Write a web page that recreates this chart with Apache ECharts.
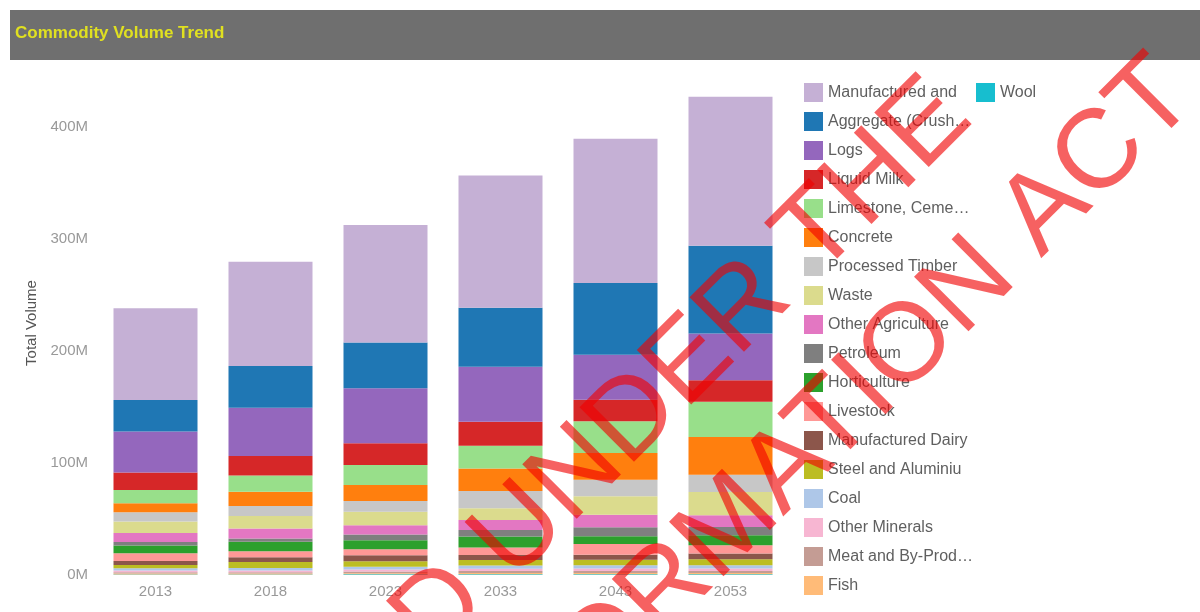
<!DOCTYPE html>
<html>
<head>
<meta charset="utf-8">
<script src="https://cdn.jsdelivr.net/npm/echarts@6/dist/echarts.min.js"></script>
<style>
html,body{margin:0;padding:0;background:#fff;}
#chart{width:1200px;height:612px;}
</style>
</head>
<body>
<div id="chart"></div>
<script>
// Categories (years)
const years = ['2013', '2018', '2023', '2033', '2043', '2053'];
// Y-axis tick labels (millions)
const yTicks = [0, 100, 200, 300, 400];

// Series values in millions, top of stack first in legend order
const manufactured    = [81.9, 93.1, 105.0, 118.1, 128.8, 133.0];
const aggregate       = [28.2, 37.2, 40.8, 52.7, 64.0, 78.3];
const logs            = [36.6, 43.1, 49.1, 49.1, 40.2, 41.7];
const liquidMilk      = [15.5, 17.3, 19.4, 21.4, 19.3, 19.3];
const limestone       = [11.9, 14.6, 17.9, 20.3, 28.3, 31.3];
const concrete        = [8.0, 12.8, 14.3, 20.3, 23.8, 33.7];
const processedTimber = [8.3, 8.9, 9.5, 15.4, 14.8, 15.4];
const waste           = [10.4, 11.1, 12.0, 10.4, 16.4, 20.9];
const otherAgri       = [8.0, 8.9, 8.3, 8.9, 11.3, 10.4];
const petroleum       = [3.0, 3.0, 5.1, 5.9, 8.0, 7.5];
const horticulture    = [6.9, 8.3, 8.0, 9.8, 6.9, 8.9];
const livestock       = [6.9, 5.4, 5.4, 6.6, 9.6, 7.4];
const manufDairy      = [3.6, 4.2, 5.4, 4.5, 4.5, 5.1];
const steel           = [3.0, 5.4, 5.0, 5.0, 5.0, 5.4];
const coal            = [2.0, 2.2, 2.4, 2.8, 2.9, 2.9];
const otherMinerals   = [1.5, 1.6, 1.8, 2.1, 2.2, 2.2];
const meat            = [1.2, 1.2, 1.5, 1.7, 1.7, 1.7];
const fish            = [0.8, 0.8, 1.0, 1.2, 1.2, 1.2];
const wool            = [0.5, 0.5, 0.6, 0.6, 0.6, 0.6];

const seriesNames = [
  'Manufactured and', 'Aggregate (Crush…', 'Logs', 'Liquid Milk', 'Limestone, Ceme…',
  'Concrete', 'Processed Timber', 'Waste', 'Other Agriculture', 'Petroleum',
  'Horticulture', 'Livestock', 'Manufactured Dairy', 'Steel and Aluminiu', 'Coal',
  'Other Minerals', 'Meat and By-Prod…', 'Fish', 'Wool'
];
const seriesValues = [
  manufactured, aggregate, logs, liquidMilk, limestone, concrete, processedTimber,
  waste, otherAgri, petroleum, horticulture, livestock, manufDairy, steel, coal,
  otherMinerals, meat, fish, wool
];
const seriesColors = [
  '#c5b0d5', '#1f77b4', '#9467bd', '#d62728', '#98df8a', '#ff7f0e', '#c7c7c7',
  '#dbdb8d', '#e377c2', '#7f7f7f', '#2ca02c', '#ff9896', '#8c564b', '#bcbd22',
  '#aec7e8', '#f7b6d2', '#c49c94', '#ffbb78', '#17becf'
];

const chart = echarts.init(document.getElementById('chart'));

// stack bottom-up: last legend item at bottom
const series = [];
for (let i = seriesNames.length - 1; i >= 0; i--) {
  series.push({
    name: seriesNames[i],
    type: 'bar',
    stack: 'total',
    barWidth: 84,
    itemStyle: { color: seriesColors[i] },
    emphasis: { disabled: true },
    data: seriesValues[i]
  });
}

const font = 'Liberation Sans, Arial, sans-serif';
const legendText = { color: '#5f5f5f', fontSize: 16, fontFamily: font };

const option = {
  animation: false,
  textStyle: { fontFamily: font },
  grid: { left: 98, right: 412, top: 71, bottom: 37 },
  legend: [
    {
      data: seriesNames.slice(0, 18),
      orient: 'vertical',
      left: 799, top: 78,
      itemWidth: 19, itemHeight: 19, itemGap: 10,
      icon: 'rect',
      selectedMode: false,
      textStyle: legendText
    },
    {
      data: seriesNames.slice(18),
      orient: 'vertical',
      left: 971, top: 78,
      itemWidth: 19, itemHeight: 19, itemGap: 10,
      icon: 'rect',
      selectedMode: false,
      textStyle: legendText
    }
  ],
  xAxis: {
    type: 'category',
    data: years,
    axisLine: { show: false },
    axisTick: { show: false },
    axisLabel: { color: '#999', fontSize: 15, margin: 9, fontFamily: font }
  },
  yAxis: {
    type: 'value',
    min: 0, max: 450, interval: 100,
    name: 'Total Volume',
    nameLocation: 'middle',
    nameGap: 58,
    nameTextStyle: { color: '#555', fontSize: 15, fontFamily: font },
    splitLine: { show: false },
    axisLine: { show: false },
    axisTick: { show: false },
    axisLabel: {
      color: '#999', fontSize: 15, margin: 10, fontFamily: font,
      formatter: function (v) { return yTicks.indexOf(v) >= 0 ? v + 'M' : ''; }
    }
  },
  graphic: [
    {
      type: 'rect', left: 10, top: 10, z: 0,
      shape: { width: 1190, height: 50 },
      style: { fill: '#6f6f6f' }
    },
    {
      type: 'text', left: 15, top: 25, z: 1,
      style: { text: 'Commodity Volume Trend', fill: '#e0e020', font: 'bold 17px ' + font }
    },
    {
      type: 'text', x: 500, y: 552, rotation: Math.PI / 4, z: 100,
      style: {
        text: 'RELEASED UNDER THE', fill: 'rgba(240,0,0,0.62)',
        font: '112px ' + font, align: 'center', verticalAlign: 'middle'
      }
    },
    {
      type: 'text', x: 624, y: 632, rotation: Math.PI / 4, z: 100,
      style: {
        text: 'OFFICIAL INFORMATION ACT', fill: 'rgba(240,0,0,0.62)',
        font: '112px ' + font, align: 'center', verticalAlign: 'middle'
      }
    }
  ],
  series: series
};
chart.setOption(option);
</script>
</body>
</html>
